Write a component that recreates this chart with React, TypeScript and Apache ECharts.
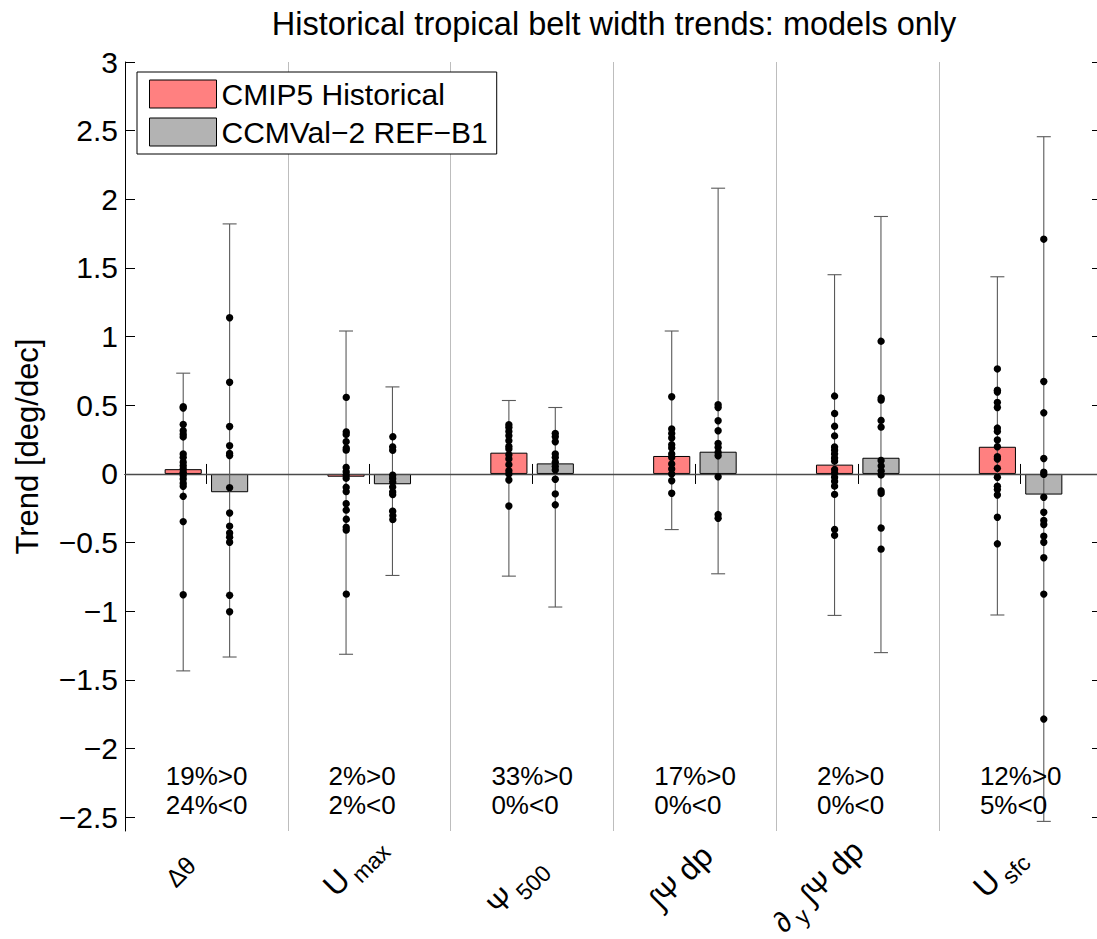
import React, { useEffect, useRef } from 'react';
import * as echarts from 'echarts';

const categories = ['Δθ', 'U_max', 'Ψ_500', '∫Ψ dp', '∂_y ∫Ψ dp', 'U_sfc'];
const seriesNames = ['CMIP5 Historical', 'CCMVal\u22122 REF\u2212B1'];
const yTicks = [-2.5, -2, -1.5, -1, -0.5, 0, 0.5, 1, 1.5, 2, 2.5, 3];

const cmip5Mean = [0.035, -0.02, 0.155, 0.131, 0.068, 0.198];
const ccmvalMean = [-0.133, -0.075, 0.077, 0.162, 0.118, -0.15];
const cmip5Low = [-1.434, -1.313, -0.744, -0.405, -1.03, -1.027];
const cmip5High = [0.734, 1.041, 0.535, 1.041, 1.451, 1.436];
const ccmvalLow = [-1.333, -0.739, -0.969, -0.727, -1.301, -2.53];
const ccmvalHigh = [1.821, 0.634, 0.484, 2.081, 1.875, 2.456];

const cmip5Dots = [
  [0.49, 0.48, 0.36, 0.315, 0.29, 0.27, 0.145, 0.12, 0.085, 0.06, 0.036, 0.012, -0.012, -0.036, -0.068, -0.09, -0.163, -0.347, -0.88],
  [0.567, 0.315, 0.295, 0.242, 0.198, 0.181, 0.055, 0.024, 0, -0.024, -0.09, -0.121, -0.209, -0.255, -0.32, -0.38, -0.4, -0.865],
  [0.358, 0.339, 0.31, 0.278, 0.242, 0.2, 0.181, 0.14, 0.109, 0.068, 0.024, 0, -0.044, -0.233],
  [0.562, 0.327, 0.295, 0.262, 0.213, 0.189, 0.145, 0.12, 0.073, 0.036, 0, -0.049, -0.141],
  [0.571, 0.445, 0.351, 0.281, 0.2, 0.177, 0.15, 0.12, 0.097, 0.036, 0.012, -0.02, -0.049, -0.085, -0.145, -0.4, -0.443],
  [0.765, 0.61, 0.596, 0.52, 0.484, 0.334, 0.31, 0.247, 0.198, 0.126, 0.109, 0.041, -0.024, -0.09, -0.114, -0.153, -0.315, -0.509],
];
const ccmvalDots = [
  [1.138, 0.668, 0.346, 0.206, 0.15, 0.135, -0.1, -0.284, -0.38, -0.43, -0.46, -0.497, -0.884, -1.003],
  [0.283, 0.206, 0.181, 0, -0.024, -0.049, -0.085, -0.121, -0.141, -0.262, -0.291, -0.32],
  [0.295, 0.271, 0.235, 0.145, 0.12, 0.085, 0.055, 0.029, -0.039, -0.145, -0.225],
  [0.504, 0.484, 0.387, 0.315, 0.222, 0.193, 0.157, 0.133, -0.02, -0.296, -0.322],
  [0.974, 0.562, 0.545, 0.397, 0.349, 0.106, 0.068, 0.031, 0, -0.116, -0.133, -0.385, -0.54],
  [1.71, 0.673, 0.445, 0.113, 0.012, -0.003, -0.17, -0.279, -0.339, -0.368, -0.453, -0.497, -0.61, -0.875, -1.785],
];

const posPct = [19, 2, 33, 17, 2, 12];
const negPct = [24, 2, 0, 0, 0, 5];

// ---- layout / style constants ----
const FONT = '"Liberation Sans", Arial, Helvetica, sans-serif';
const Y_MIN = -2.6;
const Y_MAX = 3;
const BAR_FRAC = 0.228;
const BAR_GAP = 0.25;
const OFFSET_FRAC = (BAR_FRAC * (1 + BAR_GAP)) / 2;
// per-label nudge of the rotated tick label's end point from the tick (px)
const LABEL_NUDGE = [
  [-9, 36],
  [17, 17],
  [15, 38],
  [20, 27],
  [8, 22],
  [6, 28],
];
const MAIN_SIZE = 31.5;
const MATH_SIZE = 29;
const SMALL_MATH_SIZE = 25;
const SUB_SIZE = 23;
const SUB_SHIFT = 8;
const SUB_GAP = 5;

let measureCtx: CanvasRenderingContext2D | null = null;
function textWidth(text: string, size: number): number {
  if (!measureCtx) measureCtx = document.createElement('canvas').getContext('2d');
  if (!measureCtx) return text.length * size * 0.55;
  measureCtx.font = `${size}px ${FONT}`;
  return measureCtx.measureText(text).width;
}

type Run = { text: string; size: number; shift: number; gap: number };
const SMALL_MATH = /[Δθ]/;
const MATH = /[Ψ∫∂]/;
function charClass(ch: string): number {
  if (SMALL_MATH.test(ch)) return SMALL_MATH_SIZE;
  if (MATH.test(ch)) return MATH_SIZE;
  return MAIN_SIZE;
}
function labelRuns(label: string): Run[] {
  const parts = label.split(/_(\w+)/);
  const runs: Run[] = [];
  parts.forEach((p, i) => {
    if (i % 2 === 1) {
      runs.push({ text: p, size: SUB_SIZE, shift: SUB_SHIFT, gap: SUB_GAP });
      return;
    }
    let cur = '';
    let curSize = -1;
    for (const ch of p) {
      const sz = ch === ' ' && curSize > 0 ? curSize : charClass(ch);
      if (curSize < 0 || sz === curSize) {
        cur += ch;
        curSize = sz;
      } else {
        runs.push({ text: cur, size: curSize, shift: 0, gap: 0 });
        cur = ch;
        curSize = sz;
      }
    }
    if (cur) runs.push({ text: cur, size: curSize, shift: 0, gap: 0 });
  });
  return runs;
}

function fmtTick(v: number): string {
  return (v < 0 ? '\u2212' : '') + String(Math.abs(v));
}

function errRender(sign: number) {
  return (params: any, api: any) => {
    const c = api.value(0);
    const lo = api.coord([c, api.value(1)]);
    const hi = api.coord([c, api.value(2)]);
    const band = api.size([1, 0])[0];
    const x = lo[0] + sign * band * OFFSET_FRAC;
    const cap = 7;
    const style = { stroke: '#5a5a5a', lineWidth: 1.1 };
    return {
      type: 'group',
      children: [
        { type: 'line', shape: { x1: x, y1: hi[1], x2: x, y2: lo[1] }, style },
        { type: 'line', shape: { x1: x - cap, y1: hi[1], x2: x + cap, y2: hi[1] }, style },
        { type: 'line', shape: { x1: x - cap, y1: lo[1], x2: x + cap, y2: lo[1] }, style },
      ],
    };
  };
}

function dotRender(sign: number) {
  return (params: any, api: any) => {
    const p = api.coord([api.value(0), api.value(1)]);
    const band = api.size([1, 0])[0];
    return {
      type: 'circle',
      shape: { cx: p[0] + sign * band * OFFSET_FRAC, cy: p[1], r: 3.7 },
      style: { fill: '#000' },
    };
  };
}

function labelRender(params: any, api: any) {
  const i = api.value(0);
  const p = api.coord([i, Y_MIN]);
  const nudge = LABEL_NUDGE[i] || [0, 0];
  const runs = labelRuns(categories[i]);
  const widths = runs.map((r) => textWidth(r.text, r.size));
  const total = runs.reduce((s, r, k) => s + r.gap + widths[k], 0);
  let x = -total;
  const children = runs.map((r, k) => {
    x += r.gap;
    const el = {
      type: 'text',
      x,
      y: r.shift - 0.35 * r.size,
      style: {
        text: r.text,
        fontSize: r.size,
        fontFamily: FONT,
        fill: '#000',
        align: 'left',
        verticalAlign: 'middle',
      },
    };
    x += widths[k];
    return el;
  });
  return {
    type: 'group',
    x: p[0] + nudge[0],
    y: p[1] + nudge[1],
    rotation: Math.PI / 4,
    children,
  };
}

export default function App() {
  const ref = useRef<HTMLDivElement>(null);
  useEffect(() => {
    if (!ref.current) return;
    const chart = echarts.init(ref.current, undefined, { renderer: 'svg' });
    const axisLineStyle = { color: '#000', width: 1 };
    const option: any = {
      animation: false,
      backgroundColor: '#fff',
      textStyle: { fontFamily: FONT },
      grid: { left: 125, right: -5, top: 62, bottom: 108, outerBoundsMode: 'none', containLabel: false },
      graphic: [
        {
          type: 'text',
          x: 614,
          y: 24,
          style: {
            text: 'Historical tropical belt width trends: models only',
            fontSize: 32.5,
            fontFamily: FONT,
            fill: '#000',
            align: 'center',
            verticalAlign: 'middle',
          },
        },
      ],
      legend: {
        orient: 'vertical',
        left: 137,
        top: 72,
        icon: 'rect',
        itemWidth: 67,
        itemHeight: 28,
        itemGap: 8,
        padding: [7, 9, 7, 12],
        borderColor: '#000',
        borderWidth: 1,
        backgroundColor: '#fff',
        itemStyle: { borderColor: '#000', borderWidth: 1 },
        textStyle: { fontSize: 30, color: '#000', fontFamily: FONT },
        data: seriesNames,
      },
      xAxis: [
        {
          type: 'category',
          data: categories,
          position: 'bottom',
          axisLine: { show: true, lineStyle: axisLineStyle },
          axisTick: { show: true, inside: true, length: 10, alignWithLabel: true, lineStyle: axisLineStyle },
          splitLine: { show: true, lineStyle: { color: '#bdbdbd', width: 1 } },
          axisLabel: { show: false },
        },
        {
          type: 'category',
          data: categories,
          position: 'top',
          axisLine: { show: true, lineStyle: axisLineStyle },
          axisTick: { show: true, inside: true, length: 10, alignWithLabel: true, lineStyle: axisLineStyle },
          axisLabel: { show: false },
          splitLine: { show: false },
        },
      ],
      yAxis: [
        {
          type: 'value',
          min: Y_MIN,
          max: Y_MAX,
          position: 'left',
          name: 'Trend [deg/dec]',
          nameLocation: 'middle',
          nameGap: 82,
          nameRotate: 90,
          nameTextStyle: { fontSize: 31, color: '#000', fontFamily: FONT },
          axisLine: { show: true, lineStyle: axisLineStyle },
          axisTick: { show: true, inside: true, length: 10, lineStyle: axisLineStyle, customValues: yTicks },
          axisLabel: {
            show: true,
            fontSize: 30,
            color: '#000',
            fontFamily: FONT,
            margin: 7,
            customValues: yTicks,
            formatter: (v: number) => fmtTick(v),
          },
          splitLine: { show: false },
        },
        {
          type: 'value',
          min: Y_MIN,
          max: Y_MAX,
          position: 'right',
          axisLine: { show: true, lineStyle: axisLineStyle },
          axisTick: { show: true, inside: true, length: 10, lineStyle: axisLineStyle, customValues: yTicks },
          axisLabel: { show: false },
          splitLine: { show: false },
        },
      ],
      series: [
        {
          name: seriesNames[0],
          type: 'bar',
          data: cmip5Mean,
          barWidth: `${BAR_FRAC * 100}%`,
          barGap: `${BAR_GAP * 100}%`,
          itemStyle: { color: '#ff8080', borderColor: '#000', borderWidth: 1 },
          z: 2,
          markLine: {
            silent: true,
            symbol: 'none',
            label: { show: false },
            lineStyle: { color: '#4a4a4a', width: 1.3, type: 'solid' },
            data: [{ yAxis: 0 }],
            z: 3,
          },
        },
        {
          name: seriesNames[1],
          type: 'bar',
          data: ccmvalMean,
          barWidth: `${BAR_FRAC * 100}%`,
          barGap: `${BAR_GAP * 100}%`,
          itemStyle: { color: '#b3b3b3', borderColor: '#000', borderWidth: 1 },
          z: 2,
        },
        {
          type: 'custom',
          renderItem: errRender(-1),
          data: categories.map((c, i) => [i, cmip5Low[i], cmip5High[i]]),
          encode: { x: 0, y: [1, 2] },
          z: 4,
          silent: true,
        },
        {
          type: 'custom',
          renderItem: errRender(1),
          data: categories.map((c, i) => [i, ccmvalLow[i], ccmvalHigh[i]]),
          encode: { x: 0, y: [1, 2] },
          z: 4,
          silent: true,
        },
        {
          type: 'custom',
          renderItem: dotRender(-1),
          data: cmip5Dots.flatMap((arr, i) => arr.map((v) => [i, v])),
          encode: { x: 0, y: 1 },
          z: 5,
          silent: true,
        },
        {
          type: 'custom',
          renderItem: dotRender(1),
          data: ccmvalDots.flatMap((arr, i) => arr.map((v) => [i, v])),
          encode: { x: 0, y: 1 },
          z: 5,
          silent: true,
        },
        {
          type: 'custom',
          silent: true,
          z: 6,
          data: categories.map((c, i) => [i, -2.2, posPct[i], negPct[i]]),
          encode: { x: 0, y: 1 },
          renderItem: (params: any, api: any) => {
            const i = api.value(0);
            const p1 = api.coord([i, -2.2]);
            const p2 = api.coord([i, -2.41]);
            const band = api.size([1, 0])[0];
            const x = p1[0] - band * 0.25;
            const st = { fontSize: 26, fontFamily: FONT, fill: '#000', align: 'left', verticalAlign: 'middle' };
            return {
              type: 'group',
              children: [
                { type: 'text', x, y: p1[1], style: { ...st, text: `${api.value(2)}%>0` } },
                { type: 'text', x, y: p2[1], style: { ...st, text: `${api.value(3)}%<0` } },
              ],
            };
          },
        },
        {
          type: 'custom',
          silent: true,
          clip: false,
          z: 6,
          data: categories.map((c, i) => [i, Y_MIN]),
          encode: { x: 0, y: 1 },
          renderItem: labelRender,
        },
      ],
    };
    chart.setOption(option);
    return () => chart.dispose();
  }, []);
  return (
    <div
      ref={ref}
      style={{ position: 'fixed', left: 0, top: 0, width: 1097, height: 939, background: '#fff' }}
    />
  );
}
